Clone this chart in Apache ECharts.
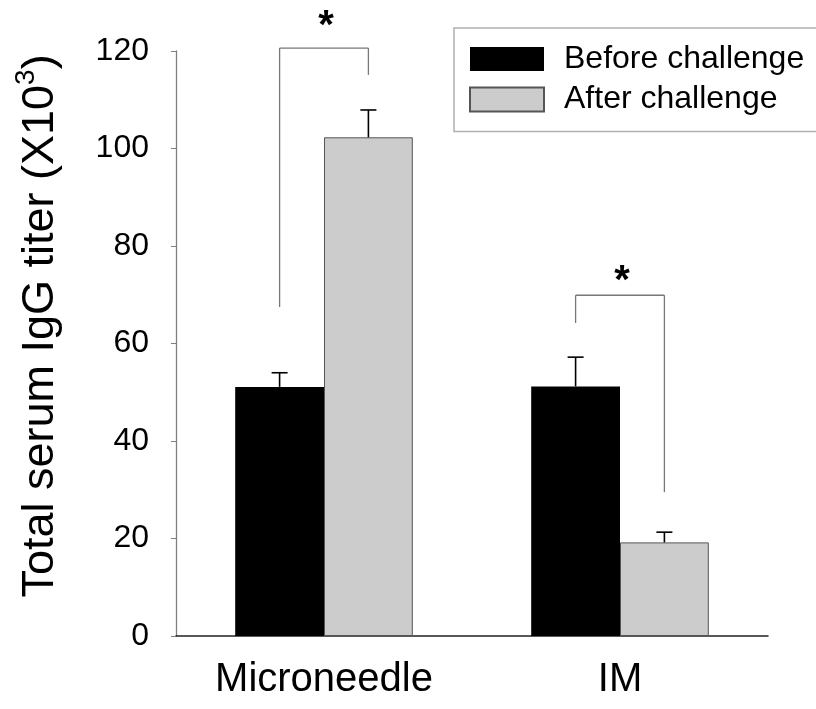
<!DOCTYPE html>
<html>
<head>
<meta charset="utf-8">
<script src="https://cdn.jsdelivr.net/npm/echarts@6/dist/echarts.min.js"></script>
<style>
  html, body { margin: 0; padding: 0; background: #fff; }
  #chart { width: 816px; height: 709px; }
</style>
</head>
<body>
<div id="chart"></div>
<script>
// data (titer in units of 10^3)
const categories = ['Microneedle', 'IM'];
const before = [51.1, 51.2];
const after = [102.3, 19.2];
const beforeErr = [2.9, 6.0];
const afterErr = [5.6, 2.1];
const yTicks = [0, 120, 20]; // min, max, step

// significance brackets: group, left leg bottom, bar level, right leg bottom, star level
const sigGroup = [0, 1];
const sigLeftLow = [67.5, 64.2];
const sigBar = [120.6, 69.9];
const sigRightLow = [115.1, 29.5];
const sigStar = [126.7, 74.5];

const FONT = 'Liberation Sans, Arial, sans-serif';

let chart = echarts.init(document.getElementById('chart'), null, { renderer: 'canvas' });

let errData = [];
before.forEach((v, i) => errData.push([i, v, beforeErr[i], -1]));
after.forEach((v, i) => errData.push([i, v, afterErr[i], 1]));

let sigData = sigGroup.map((g, i) => [g, sigLeftLow[i], sigBar[i], sigRightLow[i], sigStar[i]]);

function renderErr(params, api) {
	let band = api.size([1, 0])[0];
	let off = band * 0.15 * api.value(3);
	let base = api.coord([api.value(0), api.value(1)]);
	let top = api.coord([api.value(0), api.value(1) + api.value(2)]);
	let x = base[0] + off;
	let style = { stroke: '#000', lineWidth: 1.6 };
	return {
		type: 'group',
		children: [
			{ type: 'line', shape: { x1: x, y1: base[1], x2: x, y2: top[1] }, style: style },
			{ type: 'line', shape: { x1: x - 8, y1: top[1], x2: x + 8, y2: top[1] }, style: style }
		]
	};
}

function renderSig(params, api) {
	let band = api.size([1, 0])[0];
	let c = api.coord([api.value(0), 0])[0];
	let xl = c - band * 0.15;
	let xr = c + band * 0.15;
	let yLeft = api.coord([api.value(0), api.value(1)])[1];
	let yBar = api.coord([api.value(0), api.value(2)])[1];
	let yRight = api.coord([api.value(0), api.value(3)])[1];
	let yStar = api.coord([api.value(0), api.value(4)])[1];
	let style = { stroke: '#777', lineWidth: 1.3 };
	return {
		type: 'group',
		children: [
			{ type: 'line', shape: { x1: xl, y1: yLeft, x2: xl, y2: yBar }, style: style },
			{ type: 'line', shape: { x1: xl, y1: yBar, x2: xr, y2: yBar }, style: style },
			{ type: 'line', shape: { x1: xr, y1: yBar, x2: xr, y2: yRight }, style: style },
			{
				type: 'text',
				style: {
					text: '*', x: c + 2, y: yStar + 9,
					font: 'bold 40px ' + FONT, fill: '#000',
					textAlign: 'center', textVerticalAlign: 'middle'
				}
			}
		]
	};
}

let option = {
	animation: false,
	backgroundColor: '#fff',
	textStyle: { fontFamily: FONT },
	grid: { left: 176, right: 48, top: 51, bottom: 73 },
	legend: {
		left: 454,
		top: 28,
		orient: 'vertical',
		selectedMode: false,
		icon: 'rect',
		itemWidth: 74,
		itemHeight: 24,
		itemGap: 8.6,
		padding: [15, 30, 16, 15],
		borderColor: '#b0b0b0',
		borderWidth: 1.5,
		textStyle: { fontSize: 32, color: '#000', fontFamily: FONT, padding: [0, 0, 0, 15] },
		data: ['Before challenge', 'After challenge']
	},
	graphic: [{
		type: 'text',
		x: 41,
		y: 326,
		rotation: Math.PI / 2,
		style: {
			text: '{a|Total serum IgG titer (X10}{s|3}{a|)}',
			align: 'center',
			verticalAlign: 'middle',
			rich: {
				a: { fontSize: 45, fontFamily: FONT, color: '#000', lineHeight: 58 },
				s: { fontSize: 28, fontFamily: FONT, color: '#000', lineHeight: 28, verticalAlign: 'top' }
			}
		}
	}],
	xAxis: {
		type: 'category',
		data: categories,
		boundaryGap: true,
		axisLine: { lineStyle: { color: '#222', width: 1.5 } },
		axisTick: { alignWithLabel: true, length: 8, lineStyle: { color: '#333' } },
		axisLabel: { fontSize: 40, color: '#000', margin: 24, fontFamily: FONT },
		splitLine: { show: false }
	},
	yAxis: {
		type: 'value',
		min: yTicks[0],
		max: yTicks[1],
		interval: yTicks[2],
		axisLine: { show: true, lineStyle: { color: '#808080', width: 1.3 } },
		axisTick: { show: true, length: 5, lineStyle: { color: '#808080' } },
		axisLabel: { fontSize: 32, color: '#000', margin: 27, fontFamily: FONT },
		splitLine: { show: false }
	},
	series: [{
		name: 'Before challenge',
		type: 'bar',
		barWidth: '30%',
		barGap: '0%',
		data: before,
		itemStyle: { color: '#000' }
	}, {
		name: 'After challenge',
		type: 'bar',
		barWidth: '30%',
		barGap: '0%',
		data: after,
		itemStyle: { color: '#cccccc', borderColor: '#555', borderWidth: 1 }
	}, {
		type: 'custom',
		renderItem: renderErr,
		data: errData,
		clip: false,
		z: 5,
		encode: { x: 0, y: 1 }
	}, {
		type: 'custom',
		renderItem: renderSig,
		data: sigData,
		clip: false,
		z: 5,
		encode: { x: 0, y: 2 }
	}]
};

chart.setOption(option);
</script>
</body>
</html>
